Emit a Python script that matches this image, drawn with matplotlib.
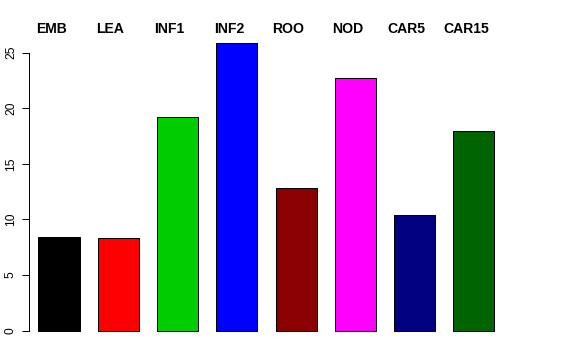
import matplotlib
matplotlib.use("Agg")
import matplotlib.pyplot as plt
import numpy as np

# tissue labels and bar heights
tissues = ["EMB", "LEA", "INF1", "INF2", "ROO", "NOD", "CAR5", "CAR15"]
values = [8.43, 8.34, 19.17, 25.87, 12.79, 22.68, 10.36, 17.91]
colors = ["#000000", "#FF0000", "#00CD00", "#0000FF",
          "#8B0000", "#FF00FF", "#000080", "#006400"]

plt.rcParams["font.family"] = ["Liberation Sans", "DejaVu Sans"]

W, H = 576, 360
fig = plt.figure(figsize=(W / 72, H / 72), dpi=72)

# axes box in pixels: left 29, right 560, top 31.5, bottom 342
left, right, top, bottom = 29, 560, 31.5, 342
ax = fig.add_axes([left / W, 1 - bottom / H, (right - left) / W, (bottom - top) / H])

# bars spaced 1.2 units apart, narrower than the spacing
x = 0.7 + 1.2 * np.arange(len(values))
ax.bar(x, values, width=0.83, color=colors, edgecolor="black", linewidth=1)

px = 49.4  # pixels per x unit
ax.set_xlim(0.7 - (59 - left) / px, 0.7 + (right - 59) / px)
ax.set_ylim(-1.02, 26.9)

for xi, name in zip(x, tissues):
    ax.text(xi - 0.16, 27.1, name, ha="center", va="center",
            fontsize=14, fontweight="bold", clip_on=False)

ax.set_xticks([])
ax.set_yticks([0, 5, 10, 15, 20, 25])
for lab in ax.get_yticklabels():
    lab.set_rotation(90)
    lab.set_va("center")
ax.tick_params(axis="y", length=7, width=1, pad=5, labelsize=12)
for s in ["top", "right", "bottom"]:
    ax.spines[s].set_visible(False)
ax.spines["left"].set_bounds(0, 25)
ax.spines["left"].set_linewidth(1)
ax.patch.set_visible(False)

fig.savefig("out.png", dpi=72)
